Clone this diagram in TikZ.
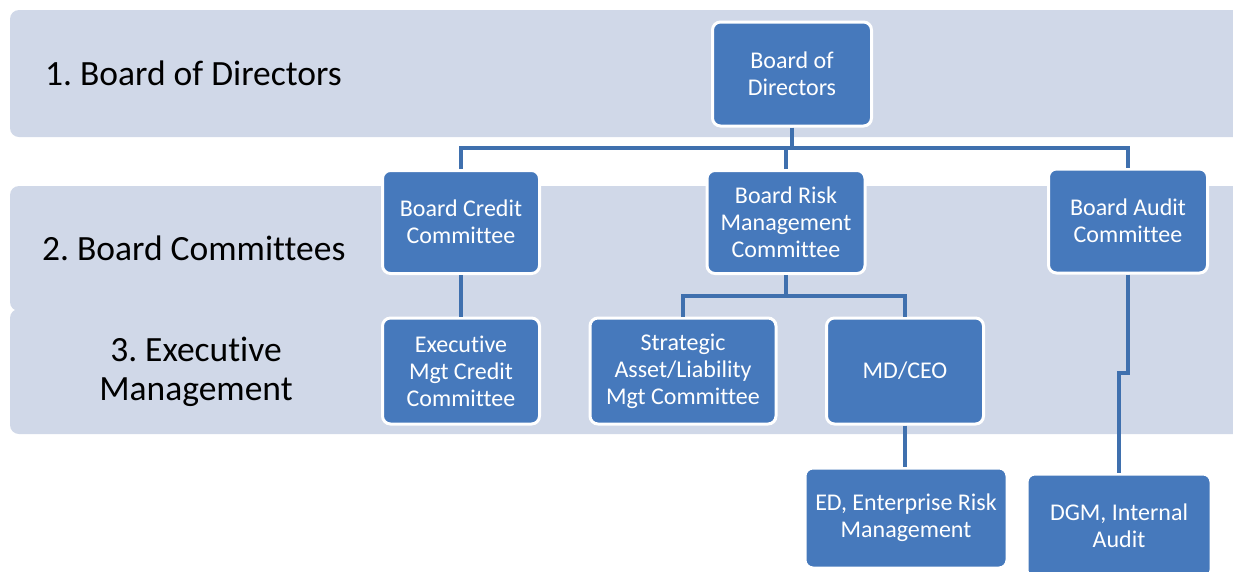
\documentclass[tikz,border=0pt]{standalone}
\usepackage{fontspec}
\setmainfont{Carlito}[Ligatures=NoCommon]
\frenchspacing
\begin{document}
\begin{tikzpicture}[x=1pt,y=-1pt,
  band/.style={fill=bandfill,rounded corners=9pt},
  org/.style={fill=boxfill,draw=white,line width=3pt,rounded corners=8pt,
    text=white,align=center,inner sep=0pt,
    font=\fontsize{24}{27}\selectfont},
  conn/.style={draw=linecol,line width=3.6pt},
  lvl/.style={font=\fontsize{35.5}{39}\selectfont,text=black,inner sep=0pt}]
\definecolor{bandfill}{HTML}{D0D8E8}
\definecolor{boxfill}{HTML}{4679BC}
\definecolor{linecol}{HTML}{3F70AE}
\useasboundingbox (0,0) rectangle (1233,571);
\clip (0,0) rectangle (1233,571);
% level bands
\fill[band] (10,10) rectangle (1260,137);
\fill[band] (10,186) rectangle (1260,311);
\fill[band] (10,309) rectangle (1260,434);
\node[lvl,anchor=west] (l1) at (45,73) {1. Board of Directors};
\node[lvl,anchor=west] (l2) at (42,248) {2. Board Committees};
\node[lvl,align=center] (l3) at (196,372) {3. Executive\\Management};
% organisation boxes
\node[org,minimum width=159pt,minimum height=104pt] (bod) at (792,74) {Board of\\Directors};
\node[org,minimum width=157pt,minimum height=103pt] (bcc) at (461,222) {Board Credit\\Committee};
\node[org,minimum width=158pt,minimum height=103pt] (brm) at (786,222) {Board Risk\\Management\\Committee};
\node[org,minimum width=159pt,minimum height=104pt] (bac) at (1128,221) {Board Audit\\Committee};
\node[org,minimum width=157pt,minimum height=106pt] (emc) at (461,371) {Executive\\Mgt Credit\\Committee};
\node[org,minimum width=186pt,minimum height=106pt] (sal) at (683,371) {Strategic\\Asset/Liability\\Mgt Committee};
\node[org,minimum width=157pt,minimum height=106pt] (ceo) at (905,371) {MD/CEO};
\node[org,minimum width=202pt,minimum height=100pt] (erm) at (906,518) {ED, Enterprise Risk\\Management};
\node[org,minimum width=184pt,minimum height=104pt] (dgm) at (1119,526) {DGM, Internal\\Audit};
% connectors
\coordinate (bus) at (0,148);
\coordinate (rbus) at (0,296);
\draw[conn] (bod.south) -- (bod.south |- bus);
\draw[conn] (bcc.north) |- (bac.north |- bus) -- (bac.north);
\draw[conn] (brm.north) -- (brm.north |- bus);
\draw[conn] (bcc.south) -- (emc.north);
\draw[conn] (brm.south) -- (brm.south |- rbus);
\draw[conn] (sal.north) |- (ceo.north |- rbus) -- (ceo.north);
\draw[conn] (ceo.south) -- (erm.north -| ceo.south);
\coordinate (jog) at (0,373);
\draw[conn] (bac.south) -- (bac.south |- jog) -| (dgm.north);
\end{tikzpicture}
\end{document}
